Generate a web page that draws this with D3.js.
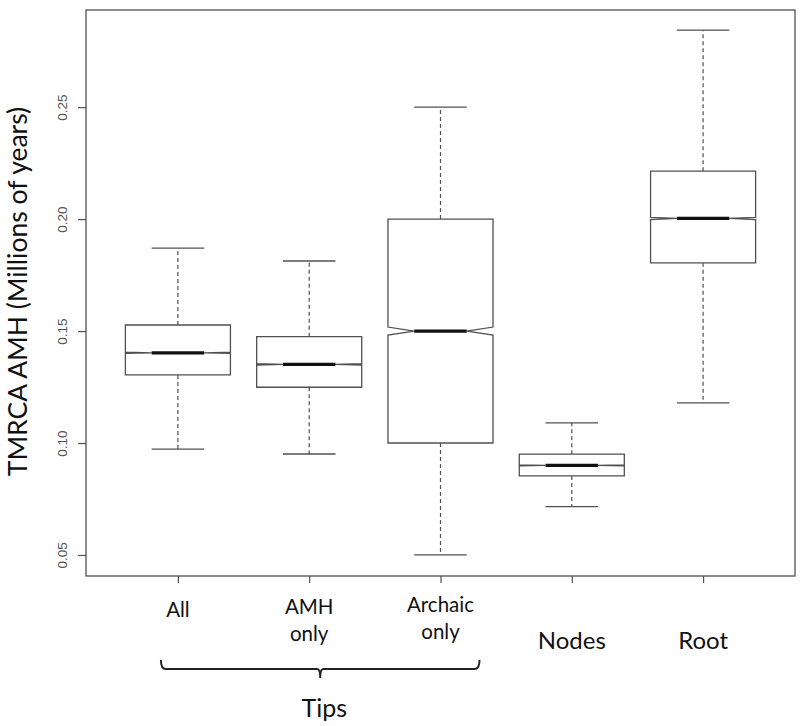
<!DOCTYPE html>
<html>
<head>
<meta charset="utf-8">
<script src="https://cdn.jsdelivr.net/npm/d3@7"></script>
<style>
  html, body { margin: 0; padding: 0; background: #fff; }
  svg { display: block; }
</style>
</head>
<body>
<svg id="chart" width="800" height="726"></svg>
<script>
// ---- data ----
const categories   = ["All", "AMH only", "Archaic only", "Nodes", "Root"];
const labelLines   = [["All"], ["AMH", "only"], ["Archaic", "only"], ["Nodes"], ["Root"]];
const whiskerLow   = [0.0973, 0.0951, 0.0500, 0.0716, 0.1179];
const q1           = [0.1304, 0.1249, 0.1000, 0.0853, 0.1805];
const medians      = [0.1403, 0.1351, 0.1500, 0.0900, 0.2003];
const q3           = [0.1527, 0.1475, 0.2000, 0.0950, 0.2214];
const whiskerHigh  = [0.1870, 0.1813, 0.2500, 0.1090, 0.2844];
const notchHalf    = [0.0003, 0.0003, 0.0018, 0.0002, 0.0005];
const yTicks       = [0.05, 0.10, 0.15, 0.20, 0.25];
const yTitle       = "TMRCA AMH (Millions of years)";
const groupLabel   = "Tips";
const groupMembers = ["All", "AMH only", "Archaic only"];

(function () {
const svg = d3.select("#chart");

const pLeft = 86, pRight = 795, pTop = 10, pBottom = 576;
const x = d3.scaleLinear().domain([0.3, categories.length + 0.7]).range([pLeft, pRight]);
const y = d3.scaleLinear().domain([0.0406, 0.2934]).range([pBottom, pTop]);

const lineCol = "#505050";
const boxHalf = (x(1.4) - x(1));      // boxwex 0.8 -> half 0.4
const capHalf = boxHalf / 2;

// frame
svg.append("rect")
  .attr("x", pLeft).attr("y", pTop)
  .attr("width", pRight - pLeft).attr("height", pBottom - pTop)
  .attr("fill", "none").attr("stroke", lineCol).attr("stroke-width", 1.3);

// y axis
const yAxis = d3.axisLeft(y).tickValues(yTicks).tickSize(8).tickFormat(d3.format(".2f"));
const gy = svg.append("g").attr("transform", `translate(${pLeft},0)`).call(yAxis);
gy.select(".domain").remove();
gy.selectAll(".tick line").attr("stroke", lineCol).attr("stroke-width", 1.2);
gy.selectAll(".tick text")
  .attr("x", null).attr("dy", null)
  .attr("transform", "translate(-19,0) rotate(-90)")
  .attr("text-anchor", "middle")
  .attr("fill", "#555")
  .style("font-family", "'Liberation Sans', Arial, sans-serif")
  .style("font-size", "13.5px");

// x axis ticks
const xAxis = d3.axisBottom(x).tickValues(d3.range(1, categories.length + 1)).tickSize(7).tickFormat("");
const gx = svg.append("g").attr("transform", `translate(0,${pBottom})`).call(xAxis);
gx.select(".domain").remove();
gx.selectAll(".tick line").attr("stroke", lineCol).attr("stroke-width", 1.2);

// boxes
categories.forEach((c, i) => {
  const cx = x(i + 1);
  const g = svg.append("g");
  g.append("line").attr("x1", cx).attr("x2", cx).attr("y1", y(q3[i])).attr("y2", y(whiskerHigh[i]))
    .attr("stroke", lineCol).attr("stroke-width", 1.2).attr("stroke-dasharray", "4,3");
  g.append("line").attr("x1", cx).attr("x2", cx).attr("y1", y(q1[i])).attr("y2", y(whiskerLow[i]))
    .attr("stroke", lineCol).attr("stroke-width", 1.2).attr("stroke-dasharray", "4,3");
  [whiskerHigh[i], whiskerLow[i]].forEach(v => {
    g.append("line").attr("x1", cx - capHalf).attr("x2", cx + capHalf).attr("y1", y(v)).attr("y2", y(v))
      .attr("stroke", lineCol).attr("stroke-width", 1.3);
  });
  const nLo = medians[i] - notchHalf[i], nHi = medians[i] + notchHalf[i];
  const pts = [
    [cx - boxHalf, y(q1[i])], [cx - boxHalf, y(nLo)], [cx - capHalf, y(medians[i])], [cx - boxHalf, y(nHi)],
    [cx - boxHalf, y(q3[i])], [cx + boxHalf, y(q3[i])], [cx + boxHalf, y(nHi)], [cx + capHalf, y(medians[i])],
    [cx + boxHalf, y(nLo)], [cx + boxHalf, y(q1[i])]
  ];
  g.append("path").attr("d", d3.line()(pts) + "Z")
    .attr("fill", "#fff").attr("stroke", lineCol).attr("stroke-width", 1.3);
  g.append("line").attr("x1", cx - capHalf).attr("x2", cx + capHalf)
    .attr("y1", y(medians[i])).attr("y2", y(medians[i]))
    .attr("stroke", "#111").attr("stroke-width", 3.2);
});

// x labels
const labFont = "Lato, 'Open Sans', sans-serif";
const labSizes = [20.5, 20.5, 20.5, 24, 24];
const labBase  = [617, 614, 612, 649, 649];
labelLines.forEach((lines, i) => {
  const t = svg.append("text")
    .attr("x", x(i + 1)).attr("y", labBase[i])
    .attr("text-anchor", "middle")
    .attr("fill", "#111")
    .style("font-family", labFont)
    .style("font-size", labSizes[i] + "px");
  lines.forEach((l, k) => {
    t.append("tspan").attr("x", x(i + 1)).attr("dy", k === 0 ? 0 : 27).text(l);
  });
});

// brace under "Tips"
const i0 = categories.indexOf(groupMembers[0]) + 1;
const i1 = categories.indexOf(groupMembers[groupMembers.length - 1]) + 1;
const bx0 = x(i0) - 17, bx1 = x(i1) + 39;
const bmid = (bx0 + bx1) / 2;
const by = 669;
svg.append("path")
  .attr("d", `M${bx0},${by - 9} Q${bx0},${by} ${bx0 + 5},${by} L${bmid - 3},${by} Q${bmid},${by} ${bmid},${by + 9} Q${bmid},${by} ${bmid + 3},${by} L${bx1 - 5},${by} Q${bx1},${by} ${bx1},${by - 9}`)
  .attr("fill", "none").attr("stroke", "#222").attr("stroke-width", 2);

svg.append("text")
  .attr("x", bmid + 4).attr("y", 717)
  .attr("text-anchor", "middle")
  .attr("fill", "#111")
  .style("font-family", labFont)
  .style("font-size", "25px")
  .text(groupLabel);

svg.append("text")
  .attr("transform", `translate(27,${(105 + 478) / 2}) rotate(-90)`)
  .attr("text-anchor", "middle")
  .attr("fill", "#111")
  .style("font-family", labFont)
  .style("font-size", "26.5px")
  .text(yTitle);
})();
</script>
</body>
</html>
